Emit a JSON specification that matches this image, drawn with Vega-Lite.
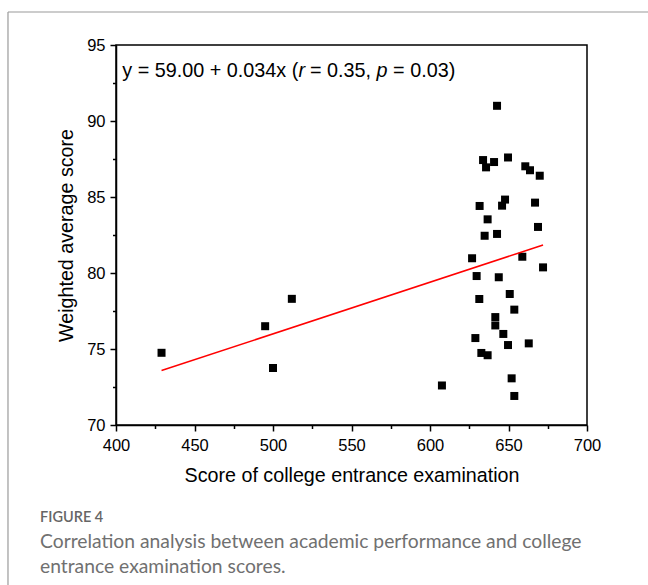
{
  "$schema": "https://vega.github.io/schema/vega-lite/v6.json",
  "width": 471,
  "height": 380,
  "autosize": {"type": "none"},
  "padding": {"left": 116, "top": 45, "right": 61, "bottom": 160},
  "background": "white",
  "config": {
    "view": {"stroke": "black", "strokeWidth": 1.5},
    "font": "Liberation Sans",
    "axis": {
      "grid": false,
      "domainColor": "black",
      "domainWidth": 1.5,
      "tickColor": "black",
      "tickWidth": 1.5,
      "labelColor": "black",
      "labelFont": "Liberation Sans",
      "labelFontSize": 16.5,
      "labelFlush": false,
      "labelOverlap": false,
      "titleFont": "Liberation Sans",
      "titleFontSize": 19.7,
      "titleFontWeight": "normal",
      "titleColor": "black"
    }
  },
  "encoding": {
    "x": {
      "field": "x",
      "type": "quantitative",
      "scale": {"domain": [400, 700], "nice": false, "zero": false},
      "axis": {
        "title": "Score of college entrance examination",
        "values": [400, 425, 450, 475, 500, 525, 550, 575, 600, 625, 650, 675, 700],
        "labelExpr": "datum.value % 50 === 0 ? datum.label : ''",
        "tickSize": {"condition": {"test": "datum.value % 50 === 0", "value": 6}, "value": 3.5},
        "labelPadding": 6,
        "titlePadding": 12
      }
    },
    "y": {
      "field": "y",
      "type": "quantitative",
      "scale": {"domain": [70, 95], "nice": false, "zero": false},
      "axis": {
        "title": "Weighted average score",
        "values": [70, 72.5, 75, 77.5, 80, 82.5, 85, 87.5, 90, 92.5, 95],
        "labelExpr": "datum.value % 5 === 0 ? datum.label : ''",
        "tickSize": {"condition": {"test": "datum.value % 5 === 0", "value": 6}, "value": 3.5},
        "labelPadding": 5,
        "titlePadding": 10
      }
    }
  },
  "layer": [
    {
      "data": {"values": [
        {"x": 331.2, "y": 97.17, "x2": 760, "y2": 97.17},
        {"x": 331.2, "y": 97.17, "x2": 331.2, "y2": 50}
      ]},
      "mark": {"type": "rule", "color": "#9a9a9a", "strokeWidth": 1.2, "clip": false},
      "encoding": {
        "x2": {"field": "x2"},
        "y2": {"field": "y2"}
      }
    },
    {
      "data": {"values": [
        {"x": 429, "y": 74.75}, {"x": 495, "y": 76.5}, {"x": 500, "y": 73.75}, {"x": 512, "y": 78.3},
        {"x": 642.7, "y": 91.0}, {"x": 633.8, "y": 87.43}, {"x": 640.8, "y": 87.3}, {"x": 635.7, "y": 86.95},
        {"x": 649.7, "y": 87.6}, {"x": 660.7, "y": 87.02}, {"x": 663.7, "y": 86.76}, {"x": 669.9, "y": 86.4},
        {"x": 631.6, "y": 84.41}, {"x": 647.8, "y": 84.83}, {"x": 645.9, "y": 84.43}, {"x": 666.9, "y": 84.63},
        {"x": 636.7, "y": 83.53}, {"x": 634.8, "y": 82.45}, {"x": 642.7, "y": 82.57}, {"x": 668.8, "y": 83.03},
        {"x": 626.8, "y": 80.97}, {"x": 658.8, "y": 81.07}, {"x": 672, "y": 80.37}, {"x": 629.7, "y": 79.8},
        {"x": 643.8, "y": 79.72}, {"x": 650.8, "y": 78.62}, {"x": 631.4, "y": 78.29}, {"x": 653.7, "y": 77.59},
        {"x": 641.6, "y": 77.1}, {"x": 641.6, "y": 76.55}, {"x": 646.7, "y": 75.99}, {"x": 628.9, "y": 75.72},
        {"x": 649.7, "y": 75.26}, {"x": 662.9, "y": 75.37}, {"x": 632.7, "y": 74.74}, {"x": 636.7, "y": 74.59},
        {"x": 652, "y": 73.07}, {"x": 607.6, "y": 72.6}, {"x": 653.7, "y": 71.91}
      ]},
      "mark": {"type": "point", "shape": "square", "filled": true, "color": "black", "size": 64, "opacity": 1}
    },
    {
      "data": {"values": [{"x": 429, "y": 73.58}, {"x": 672, "y": 81.84}]},
      "mark": {"type": "line", "color": "#ff0000", "strokeWidth": 1.5},
      "encoding": {}
    },
    {
      "data": {"values": [
        {"x": 404, "y": 92.9, "t": "y = 59.00 + 0.034x ("},
        {"x": 523.5, "y": 92.9, "t": "= 0.35,"},
        {"x": 576.5, "y": 92.9, "t": "= 0.03)"}
      ]},
      "mark": {"type": "text", "align": "left", "baseline": "alphabetic", "font": "Liberation Sans", "fontSize": 19.8, "color": "black"},
      "encoding": {"text": {"field": "t"}}
    },
    {
      "data": {"values": [
        {"x": 516.2, "y": 92.9, "t": "r"},
        {"x": 566, "y": 92.9, "t": "p"}
      ]},
      "mark": {"type": "text", "align": "left", "baseline": "alphabetic", "font": "Liberation Sans", "fontSize": 19.8, "fontStyle": "italic", "color": "black"},
      "encoding": {"text": {"field": "t"}}
    },
    {
      "data": {"values": [
        {"x": 351.6, "y": 63.6, "t": "FIGURE 4"}
      ]},
      "mark": {"type": "text", "align": "left", "baseline": "alphabetic", "font": "Lato", "fontSize": 14.5, "fontWeight": 600, "color": "#666666", "clip": false},
      "encoding": {"text": {"field": "t"}}
    },
    {
      "data": {"values": [
        {"x": 351.6, "y": 61.9, "t": "Correlation analysis between academic performance and college"},
        {"x": 351.6, "y": 60.25, "t": "entrance examination scores."}
      ]},
      "mark": {"type": "text", "align": "left", "baseline": "alphabetic", "font": "Lato", "fontSize": 19.3, "color": "#707070", "clip": false},
      "encoding": {"text": {"field": "t"}}
    }
  ]
}
